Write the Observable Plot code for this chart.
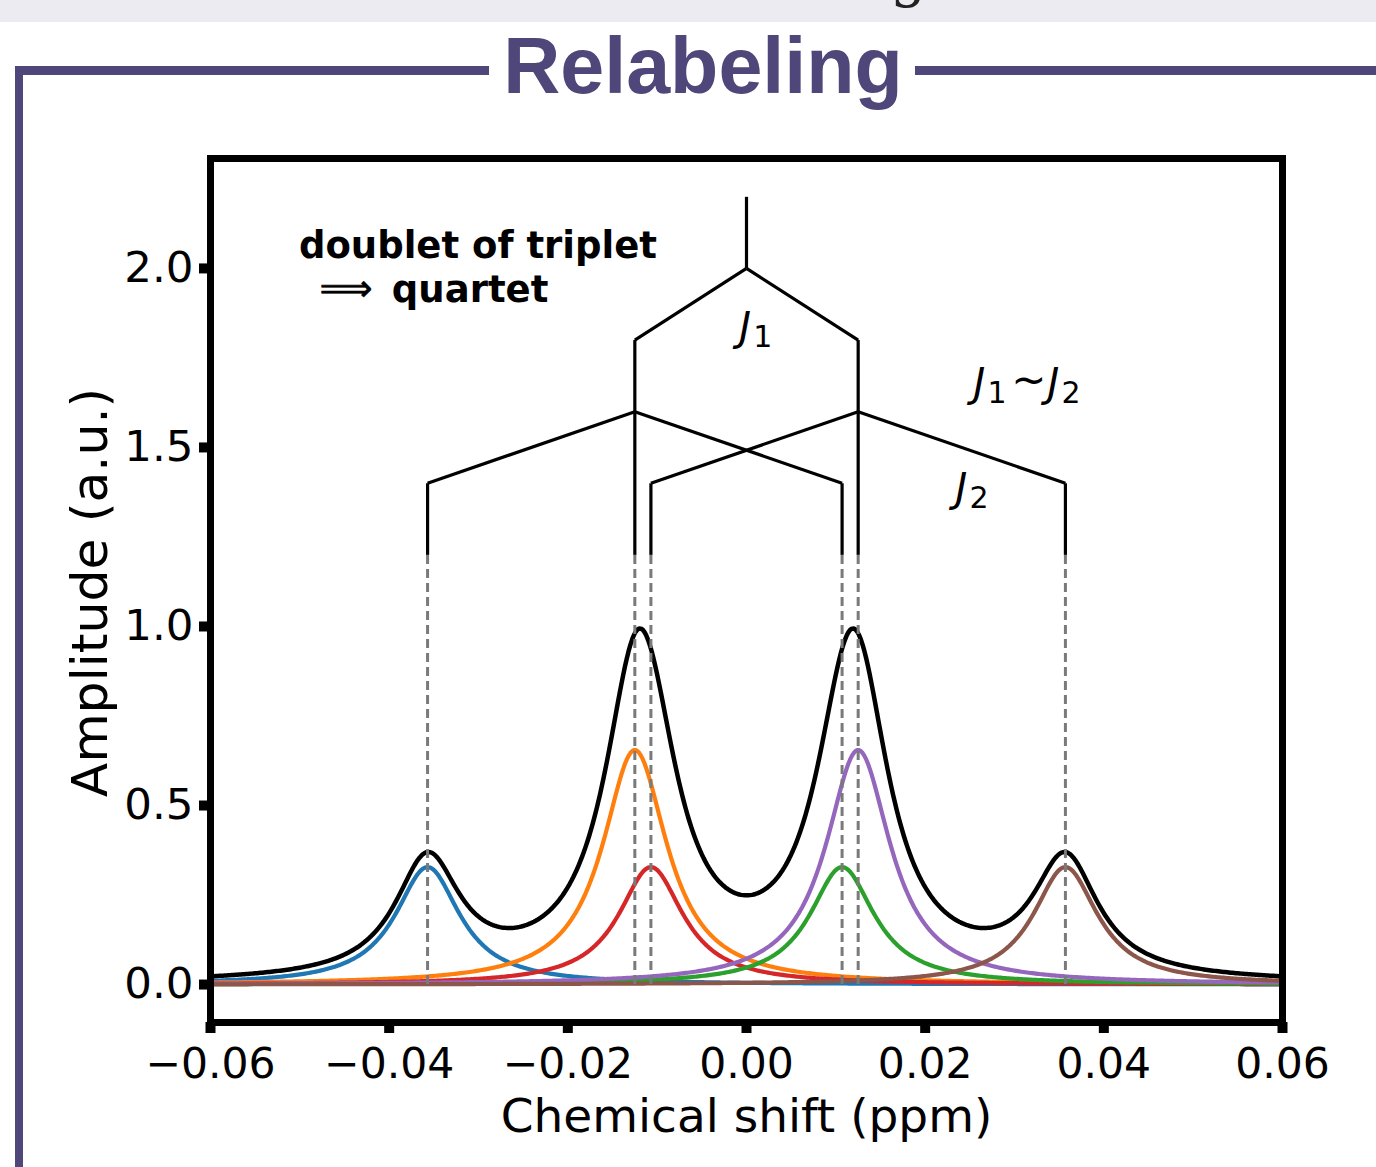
<!DOCTYPE html>
<html>
<head>
<meta charset="utf-8">
<script src="https://cdn.jsdelivr.net/npm/d3@7"></script>
<script src="https://cdn.jsdelivr.net/npm/@observablehq/plot@0.6"></script>
<style>
  html, body { margin: 0; padding: 0; background: #fff; }
  #page { position: relative; width: 1376px; height: 1167px; overflow: hidden; background: #fff; }
  #strip { position: absolute; left: 0; top: 0; width: 1376px; height: 22px; background: #edebf2; overflow: hidden; }
  #strip span { position: absolute; left: 890px; top: -54px; font: 58px "DejaVu Serif"; line-height: 58px; color: #222; }
  .bar { position: absolute; background: #4f4679; }
  #title { position: absolute; left: 203px; width: 1000px; top: 26px; text-align: center;
           font: bold 79px "Liberation Sans", Arial, sans-serif; line-height: 79px; color: #4f4679; }
  #chart { position: absolute; left: 0; top: 120px; }
</style>
</head>
<body>
<div id="page">
  <div id="strip"><span>g</span></div>
  <div class="bar" style="left:15px;top:66px;width:474px;height:9px;"></div>
  <div class="bar" style="left:915px;top:66px;width:461px;height:9px;"></div>
  <div class="bar" style="left:15px;top:66px;width:8px;height:1101px;"></div>
  <div id="title">Relabeling</div>
  <div id="chart"></div>
</div>
<script>
// ---- data ----
const xTicks = [-0.06, -0.04, -0.02, 0.00, 0.02, 0.04, 0.06];
const yTicks = [0.0, 0.5, 1.0, 1.5, 2.0];

// six Lorentzian components (doublet of triplet)
const peakNames   = ["p1", "p2", "p3", "p4", "p5", "p6"];
const peakCenters = [-0.0357, -0.0125, -0.0107, 0.0107, 0.0125, 0.0357];
const peakHeights = [0.328, 0.655, 0.328, 0.328, 0.655, 0.328];
const peakHWHM    = 0.0044;
const peakColors  = ["#1f77b4", "#ff7f0e", "#d62728", "#2ca02c", "#9467bd", "#8c564b"];

// splitting tree segments
const treeX1 = [0, 0, 0, -0.0125, 0.0125, -0.0125, -0.0125, 0.0125, 0.0125, -0.0357, -0.0107, 0.0107, 0.0357];
const treeY1 = [2.2, 2.0, 2.0, 1.8, 1.8, 1.6, 1.6, 1.6, 1.6, 1.4, 1.4, 1.4, 1.4];
const treeX2 = [0, -0.0125, 0.0125, -0.0125, 0.0125, -0.0357, 0.0107, -0.0107, 0.0357, -0.0357, -0.0107, 0.0107, 0.0357];
const treeY2 = [2.0, 1.8, 1.8, 1.2, 1.2, 1.4, 1.4, 1.4, 1.4, 1.2, 1.2, 1.2, 1.2];
const dashTop = 1.2;

// annotations
const noteLines = ["doublet of triplet", "quartet"];
const noteX = [-0.0501, -0.0397];
const noteY = [2.028, 1.905];
const arrowX = -0.0478, arrowY = 1.908;
const jMain = ["J", "J", "J", "J"];
const jSub  = ["1", "1", "2", "2"];
const jX    = [-0.0008, 0.0254, 0.0337, 0.0234];
const jY    = [1.796, 1.642, 1.642, 1.349];
const tildeX = 0.0316, tildeY = 1.648;

// ---- build tables ----
const xs = d3.range(-0.06, 0.06 + 1e-9, 0.0002);
const lor = (x, c, h) => h / (1 + ((x - c) / peakHWHM) ** 2);
const compRows = [];
peakNames.forEach((n, i) => xs.forEach(x => compRows.push({series: n, x, y: lor(x, peakCenters[i], peakHeights[i])})));
const sumRows = xs.map(x => ({x, y: d3.sum(peakCenters, (c, i) => lor(x, c, peakHeights[i]))}));
const treeRows = treeX1.map((_, i) => ({x1: treeX1[i], y1: treeY1[i], x2: treeX2[i], y2: treeY2[i]}));
const jRows = jMain.map((m, i) => ({m, s: jSub[i], x: jX[i], y: jY[i]}));
const noteRows = noteLines.map((t, i) => ({t, x: noteX[i], y: noteY[i]}));

const minus = s => s.replace("-", "\u2212");

const chart = Plot.plot({
  width: 1376,
  height: 1047,
  marginLeft: 210,
  marginRight: 94,
  marginTop: 38,
  marginBottom: 145,
  style: {fontFamily: "DejaVu Sans", background: "transparent", color: "black"},
  x: {domain: [-0.06, 0.06]},
  y: {domain: [-0.106, 2.307]},
  color: {domain: peakNames, range: peakColors},
  marks: [
    Plot.line(compRows, {x: "x", y: "y", z: "series", stroke: "series", strokeWidth: 4.2}),
    Plot.line(sumRows, {x: "x", y: "y", stroke: "black", strokeWidth: 4.5}),
    Plot.ruleX(peakCenters, {x: d => d, y1: 0, y2: dashTop, stroke: "#7a7a7a", strokeWidth: 3, strokeDasharray: "9,5"}),
    Plot.link(treeRows, {x1: "x1", y1: "y1", x2: "x2", y2: "y2", stroke: "black", strokeWidth: 3.2}),
    Plot.text(noteRows, {x: "x", y: "y", text: "t", textAnchor: "start", lineAnchor: "bottom", fontSize: 37, fontWeight: "bold", fill: "black"}),
    Plot.text([0], {x: () => arrowX, y: () => arrowY, text: () => "\u27F9", textAnchor: "start", lineAnchor: "bottom", fontSize: 37, fill: "black", stroke: "black", strokeWidth: 0.6}),
    Plot.text(jRows, {x: "x", y: "y", text: "m", textAnchor: "start", lineAnchor: "bottom", fontSize: 40, fontStyle: "italic", fill: "black"}),
    Plot.text(jRows, {x: "x", y: "y", text: "s", textAnchor: "start", lineAnchor: "bottom", fontSize: 30, dx: 14, dy: 6, fill: "black"}),
    Plot.text([0], {x: () => tildeX, y: () => tildeY, text: () => "~", textAnchor: "middle", lineAnchor: "bottom", fontSize: 42, fill: "black"}),
    Plot.frame({stroke: "black", strokeWidth: 7}),
    Plot.axisX(xTicks, {tickSize: 11, strokeWidth: 10, tickPadding: 14, fontSize: 42.5, tickFormat: d => minus(d3.format(".2f")(d)), label: null}),
    Plot.axisY(yTicks, {tickSize: 11, strokeWidth: 10, tickPadding: 6, fontSize: 43.5, tickFormat: d => minus(d3.format(".1f")(d)), label: null}),
    Plot.text(["Chemical shift (ppm)"], {frameAnchor: "bottom", dy: 94, lineAnchor: "middle", textAnchor: "middle", fontSize: 47, fill: "black"}),
    Plot.text(["Amplitude (a.u.)"], {frameAnchor: "left", dx: -120, dy: 2, rotate: -90, lineAnchor: "middle", textAnchor: "middle", fontSize: 50.5, fill: "black"})
  ]
});
document.getElementById("chart").appendChild(chart);
</script>
</body>
</html>
